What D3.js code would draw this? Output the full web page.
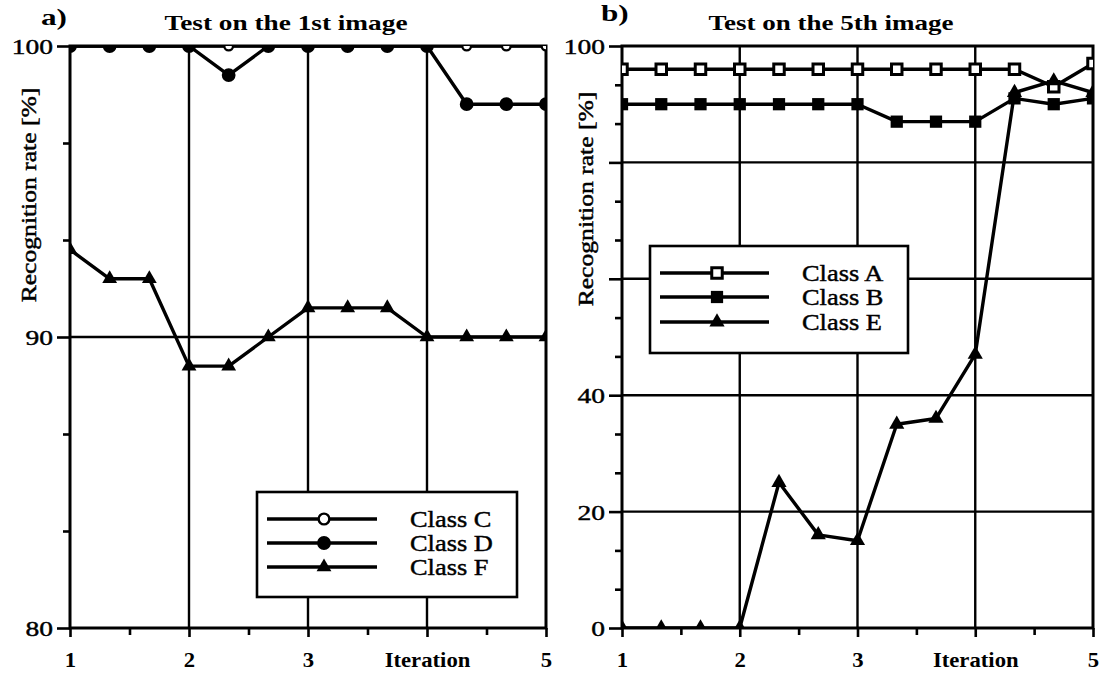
<!DOCTYPE html>
<html>
<head>
<meta charset="utf-8">
<script src="https://cdn.jsdelivr.net/npm/d3@7"></script>
<style>
  body { margin: 0; background: #fff; }
  svg { display: block; }
  text { font-family: "Liberation Serif", "Times New Roman", serif; fill: #000; }
  text.heavy { stroke: #000; stroke-width: 0.45px; }
</style>
</head>
<body>
<svg id="chart" width="1102" height="680"></svg>
<script>
// Iteration steps (three measurements per iteration)
const iterations = [1, 4/3, 5/3, 2, 7/3, 8/3, 3, 10/3, 11/3, 4, 13/3, 14/3, 5];

// a) Test on the 1st image
const classC = [100, 100, 100, 100, 100, 100, 100, 100, 100, 100, 100, 100, 100];
const classD = [100, 100, 100, 100, 99, 100, 100, 100, 100, 100, 98, 98, 98];
const classF = [93, 92, 92, 89, 89, 90, 91, 91, 91, 90, 90, 90, 90];

// b) Test on the 5th image
const classA = [96, 96, 96, 96, 96, 96, 96, 96, 96, 96, 96, 93, 97];
const classB = [90, 90, 90, 90, 90, 90, 90, 87, 87, 87, 91, 90, 91];
const classE = [0, 0, 0, 0, 25, 16, 15, 35, 36, 47, 92, 94, 92];

// Axis ticks and labels
const xTicks = [1, 2, 3, 4, 5];
const xTickLabels = ["1", "2", "3", "Iteration", "5"];
const xMinorTicks = [1.5, 2.5, 3.5, 4.5];
const leftYTicks = [80, 90, 100];
const leftYTickLabels = ["80", "90", "100"];
const rightYTicks = [0, 20, 40, 60, 80, 100];
const rightYTickLabels = ["0", "20", "40", "", "", "100"];

const svg = d3.select("#chart");

function widen(sel, k) {
  sel.each(function () {
    const n = this.getComputedTextLength();
    this.setAttribute("textLength", n * k);
    this.setAttribute("lengthAdjust", "spacingAndGlyphs");
  });
}

const panels = [
  {
    key: "a", letter: "a)", letterX: 41, letterY: 25,
    title: "Test on the 1st image", titleX: 286, titleW: 243,
    x0: 70, x1: 546, top: 46, bottom: 628,
    yDomain: [80, 100], yTicks: leftYTicks, yLabels: leftYTickLabels, yMinorStep: 10 / 3,
    yLabelX: 29, yLabelY: 195,
    series: [
      { name: "Class C", values: classC, symbol: d3.symbolCircle, size: 60, legendSize: 90, fill: "#fff", sw: 2.4 },
      { name: "Class D", values: classD, symbol: d3.symbolCircle, size: 150, legendSize: 150, fill: "#000", sw: 0 },
      { name: "Class F", values: classF, symbol: d3.symbolTriangle, size: 95, legendSize: 95, fill: "#000", sw: 0 }
    ],
    legend: { x: 257, y: 492, w: 260, h: 105, l0: 267, l1: 377, mx: 324, tx: 410, rows: [519, 543, 567] }
  },
  {
    key: "b", letter: "b)", letterX: 601, letterY: 21,
    title: "Test on the 5th image", titleX: 831, titleW: 245,
    x0: 622, x1: 1093, top: 46, bottom: 628,
    yDomain: [0, 100], yTicks: rightYTicks, yLabels: rightYTickLabels, yMinorStep: 20 / 3,
    yLabelX: 586, yLabelY: 199,
    series: [
      { name: "Class A", values: classA, symbol: d3.symbolSquare, size: 110, legendSize: 110, fill: "#fff", sw: 3 },
      { name: "Class B", values: classB, symbol: d3.symbolSquare, size: 150, legendSize: 150, fill: "#000", sw: 0 },
      { name: "Class E", values: classE, symbol: d3.symbolTriangle, size: 100, legendSize: 100, fill: "#000", sw: 0 }
    ],
    legend: { x: 650, y: 246, w: 258, h: 107, l0: 660, l1: 769, mx: 717, tx: 802, rows: [273, 297, 322] }
  }
];

panels.forEach(p => {
  const x = d3.scaleLinear().domain([1, 5]).range([p.x0, p.x1]);
  const y = d3.scaleLinear().domain(p.yDomain).range([p.bottom, p.top]);
  const g = svg.append("g").attr("class", "panel-" + p.key);

  // clip region = plot area
  const clipId = "clip-" + p.key;
  svg.append("clipPath").attr("id", clipId)
    .append("rect").attr("x", p.x0).attr("y", p.top)
    .attr("width", p.x1 - p.x0).attr("height", p.bottom - p.top);

  // grid lines
  const grid = g.append("g").attr("stroke", "#000").attr("stroke-width", 2.4);
  grid.selectAll("line.vx").data(xTicks.slice(1, -1)).join("line")
    .attr("x1", d => x(d)).attr("x2", d => x(d))
    .attr("y1", p.top).attr("y2", p.bottom);
  grid.selectAll("line.hy").data(p.yTicks.filter(d => d > p.yDomain[0] && d < p.yDomain[1])).join("line")
    .attr("x1", p.x0).attr("x2", p.x1)
    .attr("y1", d => y(d)).attr("y2", d => y(d));

  // minor ticks
  const yMinor = d3.range(p.yDomain[0], p.yDomain[1] + 0.001, p.yMinorStep)
    .filter(v => !p.yTicks.some(t => Math.abs(t - v) < 0.01));
  g.append("g").attr("transform", `translate(${p.x0},0)`)
    .call(d3.axisLeft(y).tickValues(yMinor).tickSize(7).tickFormat("").tickSizeOuter(0))
    .call(a => a.select(".domain").remove())
    .selectAll("line").attr("stroke-width", 2.6);
  g.append("g").attr("transform", `translate(0,${p.bottom})`)
    .call(d3.axisBottom(x).tickValues(xMinorTicks).tickSize(7).tickFormat("").tickSizeOuter(0))
    .call(a => a.select(".domain").remove())
    .selectAll("line").attr("stroke-width", 2.6);

  // major axes
  const yAxis = g.append("g").attr("transform", `translate(${p.x0},0)`)
    .call(d3.axisLeft(y).tickValues(p.yTicks).tickSize(13).tickPadding(4).tickSizeOuter(0)
      .tickFormat((d, i) => p.yLabels[i]));
  yAxis.select(".domain").remove();
  yAxis.selectAll("line").attr("stroke-width", 2.6);
  yAxis.selectAll("text").attr("font-size", 22).attr("dy", "0.34em")
    .classed("heavy", true).call(widen, 1.25);

  const xAxis = g.append("g").attr("transform", `translate(0,${p.bottom})`)
    .call(d3.axisBottom(x).tickValues(xTicks).tickSize(9).tickSizeOuter(0)
      .tickFormat((d, i) => xTickLabels[i]));
  xAxis.select(".domain").remove();
  xAxis.selectAll("line").attr("stroke-width", 2.6);
  xAxis.selectAll("text").attr("font-size", 21).attr("font-weight", "bold")
    .attr("y", 39).attr("dy", 0)
    .call(widen, 1.08);

  // frame
  g.append("rect").attr("x", p.x0).attr("y", p.top)
    .attr("width", p.x1 - p.x0).attr("height", p.bottom - p.top)
    .attr("fill", "none").attr("stroke", "#000").attr("stroke-width", 3);

  // series
  const plot = g.append("g").attr("clip-path", `url(#${clipId})`);
  const line = d3.line().x((d, i) => x(iterations[i])).y(d => y(d));
  p.series.forEach(s => {
    plot.append("path").datum(s.values)
      .attr("d", line).attr("fill", "none").attr("stroke", "#000")
      .attr("stroke-width", 3.4).attr("stroke-linejoin", "round");
  });
  p.series.forEach(s => {
    plot.selectAll(null).data(s.values).join("path")
      .attr("transform", (d, i) => `translate(${x(iterations[i])},${y(d)})`)
      .attr("d", d3.symbol().type(s.symbol).size(s.size))
      .attr("fill", s.fill).attr("stroke", "#000").attr("stroke-width", s.sw);
  });

  // legend
  const L = p.legend;
  const lg = g.append("g");
  lg.append("rect").attr("x", L.x).attr("y", L.y).attr("width", L.w).attr("height", L.h)
    .attr("fill", "#fff").attr("stroke", "#000").attr("stroke-width", 2.6);
  p.series.forEach((s, i) => {
    const ry = L.rows[i];
    lg.append("line").attr("x1", L.l0).attr("x2", L.l1).attr("y1", ry).attr("y2", ry)
      .attr("stroke", "#000").attr("stroke-width", 3.6);
    lg.append("path").attr("transform", `translate(${L.mx},${ry})`)
      .attr("d", d3.symbol().type(s.symbol).size(s.legendSize))
      .attr("fill", s.fill).attr("stroke", "#000").attr("stroke-width", s.sw);
    lg.append("text").attr("x", L.tx).attr("y", ry + 8).attr("font-size", 24)
      .classed("heavy", true)
      .text(s.name).call(widen, 1.1);
  });

  // y axis title
  g.append("text")
    .attr("transform", `translate(${p.yLabelX},${p.yLabelY}) rotate(-90)`)
    .attr("text-anchor", "middle").attr("dy", "0.35em").attr("font-size", 20)
    .classed("heavy", true)
    .text("Recognition rate [%]").call(widen, 1.28);

  // panel title and letter
  g.append("text").attr("x", p.titleX).attr("y", 30).attr("text-anchor", "middle")
    .attr("font-size", 21).attr("font-weight", "bold")
    .attr("textLength", p.titleW).attr("lengthAdjust", "spacingAndGlyphs")
    .text(p.title);
  g.append("text").attr("x", p.letterX).attr("y", p.letterY)
    .attr("font-size", 24).attr("font-weight", "bold")
    .text(p.letter).call(widen, 1.3);
});
</script>
</body>
</html>
